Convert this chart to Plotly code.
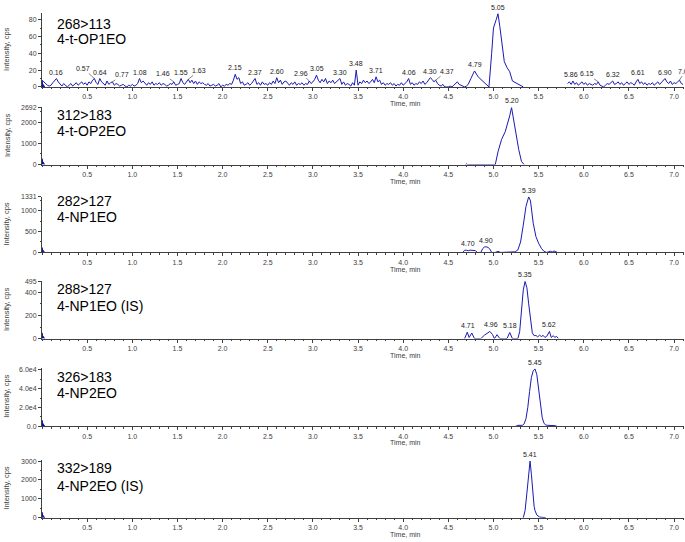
import numpy as np
import plotly.graph_objects as go

W, H = 685, 542
FONT = "Liberation Sans, Arial, sans-serif"
LINE = "#1a1ab4"
AXC = "#404040"

# ---------------- data ----------------
x_tick_vals = [0.5, 1.0, 1.5, 2.0, 2.5, 3.0, 3.5, 4.0, 4.5, 5.0, 5.5, 6.0, 6.5, 7.0]
x_tick_text = ["0.5", "1.0", "1.5", "2.0", "2.5", "3.0", "3.5", "4.0", "4.5", "5.0", "5.5", "6.0", "6.5", "7.0"]
x_max = 7.11

transitions = ["268>113", "312>183", "282>127", "288>127", "326>183", "332>189"]
compounds = ["4-t-OP1EO", "4-t-OP2EO", "4-NP1EO", "4-NP1EO (IS)", "4-NP2EO", "4-NP2EO (IS)"]

y_max = [88, 2692, 1331, 495, 6.25e4, 3080]
y_tick_vals = [[0, 20, 40, 60, 80], [0, 1000, 2000, 2692], [0, 500, 1000, 1331],
               [0, 200, 400, 495], [0, 2e4, 4e4, 6e4], [0, 1000, 2000, 3000]]
y_tick_text = [["0", "20", "40", "60", "80"], ["0", "1000", "2000", "2692"], ["0", "500", "1000", "1331"],
               ["0", "200", "400", "495"], ["0.0", "2.0e4", "4.0e4", "6.0e4"], ["0", "1000", "2000", "3000"]]
y_minor = [10, 500, 250, 100, 1e4, 500]

# initial injection blip at t = 0 (height per panel)
blip_t = [0.0, 0.0, 0.006, 0.03]
blip_height = [7, 280, 118, 49, 6300, 290]

# Panel 1 (268>113) noisy trace, scanned every 0.02 min
op1_scan_step = 0.02
op1_noise_a_start = 0.0
op1_noise_a = [
    8, 6, 3, 2, 1, 2, 5, 8, 10, 6, 3, 1, 4, 2, 0, 2, 4, 1, 3, 5, 2, 4, 6, 3, 5, 2, 6, 4, 8, 10, 5, 3, 10, 6, 4, 2, 7, 3, 5, 6, 2, 4, 3, 1, 2, 3, 1, 0, 2, 1,
    3, 1, 2, 4, 10, 5, 7, 4, 2, 5, 3, 6, 2, 4, 3, 5, 2, 4, 3, 1, 2, 4, 3, 6, 2, 3, 4, 10, 5, 3, 6, 9, 5, 8, 4, 7, 3, 6, 4, 5, 3, 2, 4, 1, 2, 3, 1, 2, 4, 0,
    2, 1, 3, 2, 4, 3, 8, 15, 9, 11, 4, 6, 2, 3, 5, 2, 4, 7, 10, 3, 5, 2, 6, 3, 4, 2, 5, 3, 7, 4, 11, 5, 8, 3, 6, 7, 4, 2, 5, 3, 6, 2, 4, 3, 5, 2, 4, 3, 7, 4,
    6, 9, 14, 8, 5, 9, 6, 10, 4, 7, 5, 8, 4, 6, 9, 10, 3, 6, 2, 4, 3, 1, 5, 2, 20, 2, 6, 4, 8, 5, 7, 4, 6, 9, 5, 12, 6, 8, 3, 5, 2, 4, 3, 5, 2, 4, 1, 3, 2, 5,
    2, 4, 6, 10, 3, 5, 2, 4, 3, 6, 4, 7, 3, 5, 8, 11, 9, 6, 8, 4, 2, 1, 3, 0, 0, 0, 1, 0, 2, 4, 6, 3, 2, 1, 0, 1]
op1_peak_t = [4.72, 4.75, 4.79, 4.83, 4.87, 4.91, 4.95, 4.98, 5.00, 5.03, 5.05, 5.07, 5.10, 5.12, 5.15, 5.18, 5.21, 5.24, 5.27, 5.30, 5.33]
op1_peak_v = [3, 10, 19, 12, 8, 5, 0, 40, 70, 80, 87, 72, 50, 30, 23, 18, 7, 5, 4, 1, 0]
op1_noise_b_start = 5.82
op1_noise_b = [
    4, 6, 3, 7, 3, 5, 2, 4, 6, 3, 5, 2, 4, 3, 2, 4, 3, 6, 2, 1, 0, 2, 4, 3, 5, 7, 3, 4, 6, 3, 5, 2, 4, 6,
    3, 5, 4, 2, 6, 9, 4, 6, 3, 5, 2, 4, 3, 5, 2, 4, 6, 3, 5, 7, 10, 6, 4, 7, 3, 5, 4, 6, 8, 4, 3]

op1_labels = ["0.16", "0.57", "0.64", "0.77", "1.08", "1.46", "1.55", "1.63", "2.15", "2.37", "2.60", "2.96", "3.05",
              "3.30", "3.48", "3.71", "4.06", "4.30", "4.37", "4.79", "5.05", "5.86", "6.15", "6.32", "6.61", "6.90", "7.08"]
op1_label_t = [0.16, 0.58, 0.64, 0.78, 1.08, 1.46, 1.54, 1.62, 2.14, 2.36, 2.60, 2.96, 3.04,
               3.30, 3.48, 3.70, 4.06, 4.30, 4.36, 4.79, 5.05, 5.86, 6.16, 6.32, 6.60, 6.90, 7.06]
op1_label_v = [10, 10, 10, 6, 10, 6, 10, 9, 15, 10, 11, 7, 14, 10, 20, 12, 10, 11, 8, 19, 87, 7, 6, 7, 9, 10, 8]
# labels that the software pushed sideways (with a leader line): pixel offsets
op1_label_dx = [0, -11, 0, 10, 0, -11, 0, 11, 0, 0, 0, -8, 0, 0, 0, 0, 0, 0, 11, 0, 0, 0, -11, 0, 0, 0, 12]
op1_label_dy = [0, -6, 0, -3, 0, -4, 0, -5, 0, 0, 0, -4, 0, 0, 0, 0, 0, 0, -5, 0, 0, 0, -4, 0, 0, 0, -5]

op2_t = [4.69, 4.70, 4.71, 5.02, 5.05, 5.09, 5.13, 5.16, 5.18, 5.20, 5.22, 5.25, 5.28, 5.31, 5.34]
op2_v = [0, 40, 0, 0, 600, 1190, 1550, 1980, 2300, 2692, 2200, 1350, 700, 150, 0]
op2_labels, op2_label_t, op2_label_v = ["5.20"], [5.20], [2692]

np1_t = [4.66, 4.68, 4.70, 4.72, 4.74, 4.76, 4.78, 4.80, 4.82, 4.86, 4.88, 4.90, 4.92, 4.94, 4.96, 4.98, 5.02, 5.05, 5.08,
         5.20, 5.24, 5.27, 5.30, 5.33, 5.36, 5.39, 5.41, 5.44, 5.47, 5.50, 5.53, 5.56, 5.59, 5.63, 5.65, 5.67, 5.69, 5.71]
np1_v = [0, 50, 55, 40, 55, 50, 55, 45, 0, 0, 90, 130, 135, 120, 80, 0, 0, 25, 0,
         0, 15, 60, 250, 650, 1100, 1331, 1230, 700, 380, 220, 100, 25, 0, 30, 10, 35, 20, 0]
np1_labels, np1_label_t, np1_label_v = ["4.70", "4.90", "5.39"], [4.72, 4.92, 5.39], [55, 135, 1331]

np1is_t = [4.68, 4.71, 4.73, 4.76, 4.79, 4.86, 4.90, 4.93, 4.96, 4.99, 5.01, 5.04, 5.07, 5.15, 5.18, 5.21, 5.27, 5.29,
           5.31, 5.33, 5.35, 5.37, 5.39, 5.41, 5.43, 5.45, 5.47, 5.49, 5.51, 5.53, 5.55, 5.57, 5.59, 5.62, 5.64, 5.66, 5.68, 5.70, 5.72]
np1is_v = [0, 56, 10, 48, 0, 0, 30, 50, 62, 35, 0, 34, 0, 0, 53, 0, 0, 60,
           250, 420, 495, 440, 300, 150, 50, 25, 28, 15, 30, 18, 28, 10, 20, 62, 10, 25, 12, 18, 0]
np1is_labels = ["4.71", "4.96", "5.18", "5.35", "5.62"]
np1is_label_t = [4.72, 4.97, 5.18, 5.35, 5.62]
np1is_label_v = [56, 62, 53, 495, 62]

np2_t = [5.25, 5.27, 5.32, 5.34, 5.36, 5.38, 5.40, 5.42, 5.44, 5.46, 5.48, 5.50, 5.52, 5.54, 5.56, 5.58, 5.60, 5.66, 5.68, 5.70]
np2_v = [0, 900, 900, 2500, 8000, 20000, 37000, 52000, 59000, 61000, 55000, 40000, 22000, 9000, 3000, 1200, 900, 900, 600, 0]
np2_labels, np2_label_t, np2_label_v = ["5.45"], [5.46], [61000]

np2is_t = [5.33, 5.35, 5.37, 5.39, 5.405, 5.42, 5.435, 5.45, 5.46, 5.48, 5.51, 5.55, 5.58]
np2is_v = [0, 380, 1300, 2500, 3000, 2300, 1150, 600, 380, 150, 40, 20, 0]
np2is_labels, np2is_label_t, np2is_label_v = ["5.41"], [5.405], [3000]

# ---------------- figure ----------------
op1_t_a = list(np.round(op1_noise_a_start + op1_scan_step * np.arange(len(op1_noise_a)), 3))
op1_t_b = list(np.round(op1_noise_b_start + op1_scan_step * np.arange(len(op1_noise_b)), 3))
p1_t = op1_t_a + op1_peak_t + [None] + op1_t_b
p1_v = op1_noise_a + op1_peak_v + [None] + op1_noise_b

traces_t = [p1_t, op2_t, np1_t, np1is_t, np2_t, np2is_t]
traces_v = [p1_v, op2_v, np1_v, np1is_v, np2_v, np2is_v]
label_sets = [
    (op1_labels, op1_label_t, op1_label_v),
    (op2_labels, op2_label_t, op2_label_v),
    (np1_labels, np1_label_t, np1_label_v),
    (np1is_labels, np1is_label_t, np1is_label_v),
    (np2_labels, np2_label_t, np2_label_v),
    (np2is_labels, np2is_label_t, np2is_label_v),
]

# panel geometry in pixels (top of y range, zero line)
tops = [9, 104.8, 195.3, 281, 368.3, 461.5]
bots = [84, 162.7, 251.7, 339, 427.7, 520.5]
title1_y = [20, 112.3, 200, 288.5, 378.3, 470]
title2_y = [35.5, 128.3, 216, 306, 394, 488.3]
x0_px, x1_px = 42, 684

fig = go.Figure()
layout = dict(width=W, height=H, margin=dict(l=0, r=0, t=0, b=0),
              paper_bgcolor="white", plot_bgcolor="white", showlegend=False,
              font=dict(family=FONT, size=7, color=AXC))
annotations = []

def py(p):
    return 1 - p / H

def px(p):
    return p / W

for i in range(6):
    n = "" if i == 0 else str(i + 1)
    xa, ya = "x" + n, "y" + n
    # blip at start
    fig.add_trace(go.Scatter(x=blip_t, y=[0, blip_height[i], blip_height[i] * 0.55, 0], xaxis=xa, yaxis=ya,
                             mode="lines", line=dict(color="#10109a", width=1), fill="toself",
                             fillcolor="#10109a", hoverinfo="skip"))
    fig.add_trace(go.Scatter(x=traces_t[i], y=traces_v[i], xaxis=xa, yaxis=ya, mode="lines",
                             line=dict(color=LINE, width=1), connectgaps=False))
    layout["xaxis" + n] = dict(domain=[px(x0_px), px(x1_px)], range=[0, x_max], anchor=ya,
                               tickmode="array", tickvals=x_tick_vals, ticktext=x_tick_text,
                               ticks="outside", ticklen=3, tickwidth=1, tickcolor=AXC,
                               minor=dict(tickmode="linear", tick0=0, dtick=0.1, ticks="outside",
                                          ticklen=1.5, tickcolor=AXC),
                               showline=True, linecolor=AXC, linewidth=1, showgrid=False, zeroline=False,
                               tickfont=dict(size=7, color=AXC, family=FONT), fixedrange=True)
    layout["yaxis" + n] = dict(domain=[py(bots[i]), py(tops[i])], range=[0, y_max[i]], anchor=xa,
                               tickmode="array", tickvals=y_tick_vals[i], ticktext=y_tick_text[i],
                               ticks="outside", ticklen=3, tickwidth=1, tickcolor=AXC,
                               minor=dict(tickmode="linear", tick0=0, dtick=y_minor[i], ticks="outside",
                                          ticklen=1.5, tickcolor=AXC),
                               showline=True, linecolor=AXC, linewidth=1, showgrid=False, zeroline=False,
                               tickfont=dict(size=7, color=AXC, family=FONT), fixedrange=True)
    # panel titles
    annotations.append(dict(xref="paper", yref="paper", x=px(55), y=py(title1_y[i]), text=transitions[i],
                            showarrow=False, xanchor="left", yanchor="middle",
                            font=dict(size=14, color="black", family=FONT)))
    annotations.append(dict(xref="paper", yref="paper", x=px(55), y=py(title2_y[i]), text=compounds[i],
                            showarrow=False, xanchor="left", yanchor="middle",
                            font=dict(size=14, color="black", family=FONT)))
    # y title
    annotations.append(dict(xref="paper", yref="paper", x=px(7), y=py((tops[i] + bots[i]) / 2),
                            text="Intensity, cps", textangle=-90, showarrow=False,
                            xanchor="center", yanchor="middle", font=dict(size=7.5, color=AXC, family=FONT)))
    # x title
    annotations.append(dict(xref="paper", yref="paper", x=px(405), y=py(bots[i] + 17),
                            text="Time, min", showarrow=False, xanchor="center", yanchor="middle",
                            font=dict(size=7, color=AXC, family=FONT)))
    # peak labels
    texts, lt, lv = label_sets[i]
    for k in range(len(texts)):
        dx = op1_label_dx[k] if i == 0 else 0
        dy = op1_label_dy[k] if i == 0 else 0
        if dx == 0:
            annotations.append(dict(xref=xa, yref=ya, x=lt[k], y=lv[k], text=texts[k], showarrow=False,
                                    xanchor="center", yanchor="bottom", yshift=1,
                                    font=dict(size=7, color="#222", family=FONT)))
        else:
            annotations.append(dict(xref=xa, yref=ya, x=lt[k], y=lv[k], text=texts[k], showarrow=True,
                                    ax=dx, ay=dy - 4, arrowhead=0, arrowwidth=0.6, arrowcolor="#333",
                                    standoff=0, font=dict(size=7, color="#222", family=FONT)))

layout["annotations"] = annotations
fig.update_layout(**layout)
fig.write_html("out.html", config={"displayModeBar": False},
               post_script="document.body.style.margin='0';document.body.style.overflow='hidden';")
